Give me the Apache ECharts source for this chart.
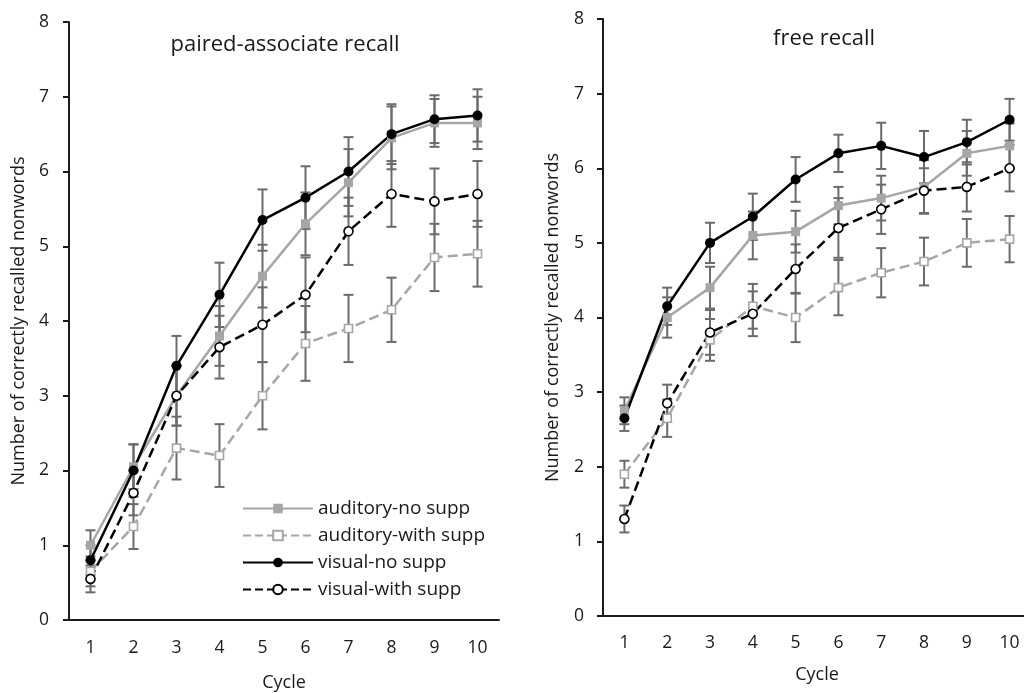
<!DOCTYPE html>
<html>
<head>
<meta charset="utf-8">
<script src="https://cdn.jsdelivr.net/npm/echarts@6/dist/echarts.min.js"></script>
<style>
    html, body { margin: 0; padding: 0; background: #fff; }
    #chart { width: 1024px; height: 693px; }
</style>
</head>
<body>
<div id="chart"></div>
<script>
// 数据
const cycles = ['1', '2', '3', '4', '5', '6', '7', '8', '9', '10'];
const yTicks = [0, 1, 2, 3, 4, 5, 6, 7, 8];
const seriesNames = ['auditory-no supp', 'auditory-with supp', 'visual-no supp', 'visual-with supp'];

// paired-associate recall (left)
const pairedAudNo = [1.0, 2.05, 3.0, 3.8, 4.6, 5.3, 5.85, 6.45, 6.65, 6.65];
const pairedAudNoErr = [0.2, 0.3, 0.4, 0.4, 0.42, 0.42, 0.45, 0.42, 0.32, 0.35];
const pairedAudWith = [0.65, 1.25, 2.3, 2.2, 3.0, 3.7, 3.9, 4.15, 4.85, 4.9];
const pairedAudWithErr = [0.2, 0.3, 0.42, 0.42, 0.45, 0.5, 0.45, 0.43, 0.45, 0.44];
const pairedVisNo = [0.8, 2.0, 3.4, 4.35, 5.35, 5.65, 6.0, 6.5, 6.7, 6.75];
const pairedVisNoErr = [0.2, 0.35, 0.4, 0.43, 0.41, 0.42, 0.46, 0.4, 0.32, 0.35];
const pairedVisWith = [0.55, 1.7, 3.0, 3.65, 3.95, 4.35, 5.2, 5.7, 5.6, 5.7];
const pairedVisWithErr = [0.18, 0.3, 0.4, 0.42, 0.5, 0.5, 0.45, 0.44, 0.44, 0.44];

// free recall (right)
const freeAudNo = [2.75, 4.0, 4.4, 5.1, 5.15, 5.5, 5.6, 5.75, 6.2, 6.3];
const freeAudNoErr = [0.18, 0.27, 0.28, 0.32, 0.28, 0.25, 0.3, 0.36, 0.3, 0.3];
const freeAudWith = [1.9, 2.65, 3.7, 4.15, 4.0, 4.4, 4.6, 4.75, 5.0, 5.05];
const freeAudWithErr = [0.18, 0.25, 0.28, 0.3, 0.33, 0.37, 0.33, 0.32, 0.32, 0.31];
const freeVisNo = [2.65, 4.15, 5.0, 5.35, 5.85, 6.2, 6.3, 6.15, 6.35, 6.65];
const freeVisNoErr = [0.17, 0.25, 0.27, 0.31, 0.3, 0.25, 0.31, 0.35, 0.3, 0.28];
const freeVisWith = [1.3, 2.85, 3.8, 4.05, 4.65, 5.2, 5.45, 5.7, 5.75, 6.0];
const freeVisWithErr = [0.18, 0.25, 0.3, 0.3, 0.33, 0.4, 0.33, 0.3, 0.33, 0.31];

const FONT = '"Open Sans", "Noto Sans", sans-serif';
const TEXT = '#1a1a1a';
const GRAY = '#a6a6a6';
const ERR_COLOR = '#6b6b6b';

// 每条线的样式
const styles = [
    { color: GRAY, type: 'solid', symbol: 'rect', fill: GRAY, size: 9 },
    { color: GRAY, type: 'dashed', symbol: 'rect', fill: '#fff', size: 8 },
    { color: '#000', type: 'solid', symbol: 'circle', fill: '#000', size: 10 },
    { color: '#000', type: 'dashed', symbol: 'circle', fill: '#fff', size: 9 }
];

function lineSeries(idx, values, axisIdx) {
    const s = styles[idx];
    return {
        name: seriesNames[idx],
        type: 'line',
        xAxisIndex: axisIdx,
        yAxisIndex: axisIdx,
        data: values,
        symbol: s.symbol,
        symbolSize: s.size,
        showSymbol: true,
        lineStyle: { color: s.color, width: 2.5, type: s.type },
        itemStyle: { color: s.fill, borderColor: s.color, borderWidth: s.fill === '#fff' ? 1.6 : 0 },
        emphasis: { disabled: true },
        z: 3
    };
}

function errorSeries(values, errs, axisIdx) {
    const data = values.map((v, i) => [i, v - errs[i], v + errs[i]]);
    return {
        type: 'custom',
        xAxisIndex: axisIdx,
        yAxisIndex: axisIdx,
        data: data,
        silent: true,
        z: 2,
        renderItem: function (params, api) {
            const lo = api.coord([api.value(0), api.value(1)]);
            const hi = api.coord([api.value(0), api.value(2)]);
            const w = 5;
            const st = { stroke: ERR_COLOR, lineWidth: 2 };
            return {
                type: 'group',
                children: [
                    { type: 'line', shape: { x1: hi[0], y1: hi[1], x2: lo[0], y2: lo[1] }, style: st },
                    { type: 'line', shape: { x1: hi[0] - w, y1: hi[1], x2: hi[0] + w, y2: hi[1] }, style: st },
                    { type: 'line', shape: { x1: lo[0] - w, y1: lo[1], x2: lo[0] + w, y2: lo[1] }, style: st }
                ]
            };
        }
    };
}

function xAxisCfg(gridIdx) {
    return {
        type: 'category',
        gridIndex: gridIdx,
        data: cycles,
        name: 'Cycle',
        nameLocation: 'middle',
        nameGap: gridIdx === 0 ? 54 : 50,
        nameTextStyle: { color: TEXT, fontSize: 18, fontFamily: FONT },
        axisLine: { lineStyle: { color: TEXT, width: 2 } },
        axisTick: { alignWithLabel: true, length: 6, lineStyle: { color: TEXT, width: 2 } },
        axisLabel: { color: TEXT, fontSize: 17.5, fontFamily: FONT, margin: gridIdx === 0 ? 19 : 18 },
        splitLine: { show: false }
    };
}

function yAxisCfg(gridIdx) {
    return {
        type: 'value',
        gridIndex: gridIdx,
        min: yTicks[0],
        max: yTicks[yTicks.length - 1],
        interval: 1,
        name: 'Number of correctly recalled nonwords',
        nameLocation: 'middle',
        nameGap: gridIdx === 0 ? 41 : 41,
        nameTextStyle: { color: TEXT, fontSize: 18, fontFamily: FONT },
        axisLine: { show: true, lineStyle: { color: TEXT, width: 2 } },
        axisTick: { show: true, length: 6, lineStyle: { color: TEXT, width: 2 } },
        axisLabel: { color: TEXT, fontSize: 17.5, fontFamily: FONT, margin: gridIdx === 0 ? 20 : 19 },
        splitLine: { show: false }
    };
}

const chart = echarts.init(document.getElementById('chart'));

const option = {
    animation: false,
    backgroundColor: '#fff',
    title: [
        { text: 'paired-associate recall', left: 280, top: 29, textAlign: 'center',
          textStyle: { fontSize: 22, fontWeight: 'normal', color: TEXT, fontFamily: FONT } },
        { text: 'free recall', left: 819, top: 23, textAlign: 'center',
          textStyle: { fontSize: 22, fontWeight: 'normal', color: TEXT, fontFamily: FONT } }
    ],
    legend: {
        data: seriesNames,
        orient: 'vertical',
        left: 237,
        top: 494,
        itemWidth: 70,
        itemHeight: 12,
        itemGap: 8,
        textStyle: { fontSize: 19, color: TEXT, fontFamily: FONT, padding: [0, 0, 0, 0] }
    },
    grid: [
        { left: 69, right: 525, top: 22, bottom: 73, outerBoundsMode: 'none' },
        { left: 603, right: -7, top: 19, bottom: 77, outerBoundsMode: 'none' }
    ],
    xAxis: [xAxisCfg(0), xAxisCfg(1)],
    yAxis: [yAxisCfg(0), yAxisCfg(1)],
    series: [
        errorSeries(pairedAudNo, pairedAudNoErr, 0),
        errorSeries(pairedAudWith, pairedAudWithErr, 0),
        errorSeries(pairedVisNo, pairedVisNoErr, 0),
        errorSeries(pairedVisWith, pairedVisWithErr, 0),
        errorSeries(freeAudNo, freeAudNoErr, 1),
        errorSeries(freeAudWith, freeAudWithErr, 1),
        errorSeries(freeVisNo, freeVisNoErr, 1),
        errorSeries(freeVisWith, freeVisWithErr, 1),
        lineSeries(0, pairedAudNo, 0),
        lineSeries(1, pairedAudWith, 0),
        lineSeries(2, pairedVisNo, 0),
        lineSeries(3, pairedVisWith, 0),
        lineSeries(0, freeAudNo, 1),
        lineSeries(1, freeAudWith, 1),
        lineSeries(2, freeVisNo, 1),
        lineSeries(3, freeVisWith, 1)
    ]
};

chart.setOption(option);
</script>
</body>
</html>
